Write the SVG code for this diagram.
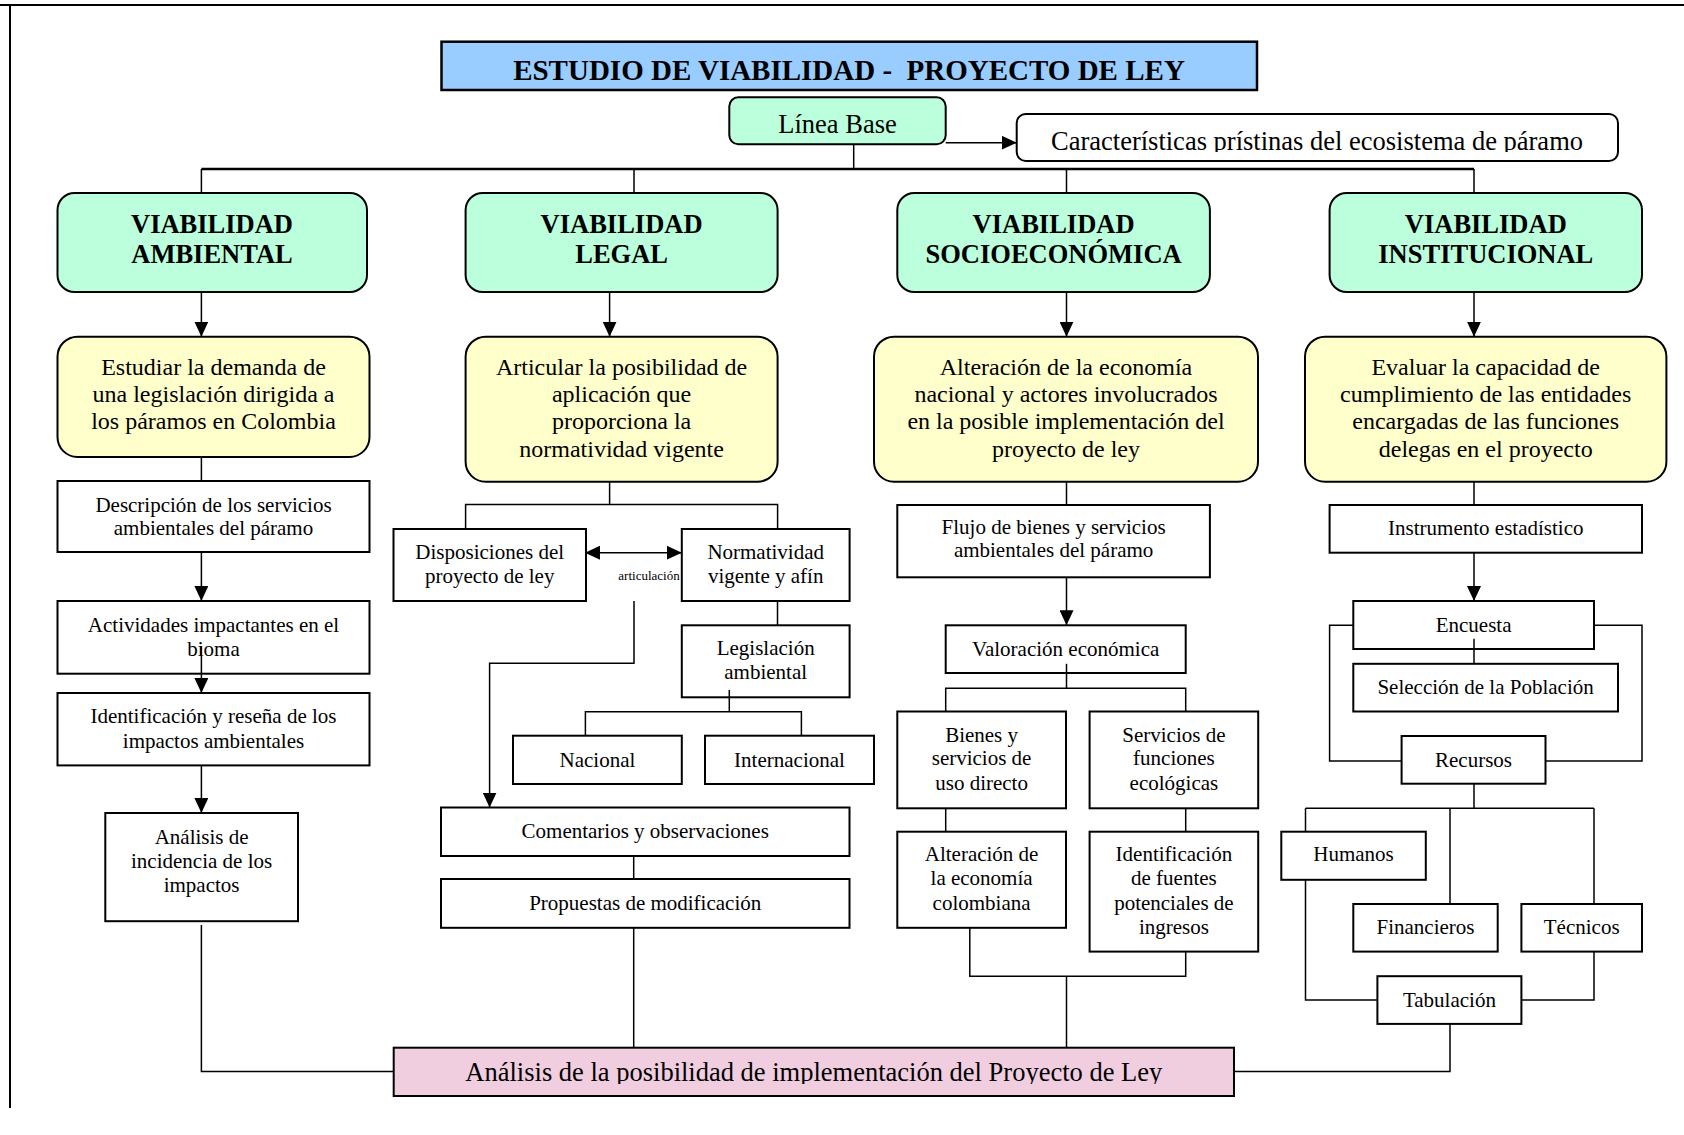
<svg xmlns="http://www.w3.org/2000/svg" width="1684" height="1135" viewBox="0 0 1684 1135">
<style>
.bx{fill:#fff;stroke:#000;stroke-width:2}
.gr{fill:#bbffdc;stroke:#000;stroke-width:2}
.ye{fill:#ffffcc;stroke:#000;stroke-width:2}
.pk{fill:#f1cde0;stroke:#000;stroke-width:2}
.bl{fill:#99ccff;stroke:#000;stroke-width:2.5}
text{font-family:"Liberation Serif","Times New Roman",serif;text-anchor:middle;fill:#000}
.s{font-size:21px}
.m{font-size:24px}
.l{font-size:26.5px}
.h{font-size:26.5px;font-weight:bold}
.ti{font-size:29px;font-weight:bold}
.a{font-size:13px}
.c{fill:none;stroke:#000;stroke-width:1.5}
.k{fill:none;stroke:#000;stroke-width:2.5}
.fr{fill:none;stroke:#000;stroke-width:2}
</style>
<defs>
<marker id="ar" markerUnits="userSpaceOnUse" markerWidth="16" markerHeight="14" refX="15" refY="7" orient="auto">
<path d="M0,0 L15,7 L0,14 Z" fill="#000"/>
</marker>
<marker id="as" markerUnits="userSpaceOnUse" markerWidth="16" markerHeight="14" refX="1" refY="7" orient="auto">
<path d="M15,0 L0,7 L15,14 Z" fill="#000"/>
</marker>
<clipPath id="cc"><rect x="1016" y="114" width="602" height="38"/></clipPath>
<clipPath id="cp"><rect x="393" y="1047" width="841" height="37"/></clipPath>
</defs>

<g id="page">
<line class="fr" x1="0" y1="5" x2="1684" y2="5"/>
<line class="fr" x1="10" y1="5" x2="10" y2="1108"/>
</g>

<g id="titulo">
<rect class="bl" x="441.5" y="41.7" width="815.5" height="48.3"/>
<text class="ti" x="849" y="80" xml:space="preserve">ESTUDIO DE VIABILIDAD -  PROYECTO DE LEY</text>
</g>
<g id="linea-base">
<rect class="gr" x="729.3" y="97.3" width="216.4" height="47" rx="9"/>
<text class="l" x="837.5" y="133.3">Línea Base</text>
</g>
<g id="caracteristicas">
<rect class="bx" x="1016.7" y="114" width="601.3" height="47" rx="9"/>
<text class="l" x="1317" y="150" clip-path="url(#cc)">Características prístinas del ecosistema de páramo</text>
</g>

<g id="v-ambiental">
<rect class="gr" x="57.5" y="193" width="309.5" height="99" rx="17"/>
<text class="h" x="212" y="233">VIABILIDAD</text>
<text class="h" x="212" y="263">AMBIENTAL</text>
</g>
<g id="v-legal">
<rect class="gr" x="465.6" y="193" width="312" height="99" rx="17"/>
<text class="h" x="621.6" y="233">VIABILIDAD</text>
<text class="h" x="621.6" y="263">LEGAL</text>
</g>
<g id="v-socio">
<rect class="gr" x="897.3" y="193" width="312.6" height="99" rx="17"/>
<text class="h" x="1053.6" y="233">VIABILIDAD</text>
<text class="h" x="1053.6" y="263">SOCIOECONÓMICA</text>
</g>
<g id="v-inst">
<rect class="gr" x="1329.6" y="193" width="312.4" height="99" rx="17"/>
<text class="h" x="1485.8" y="233">VIABILIDAD</text>
<text class="h" x="1485.8" y="263">INSTITUCIONAL</text>
</g>

<g id="obj-ambiental">
<rect class="ye" x="57.5" y="336.7" width="312" height="120.3" rx="20"/>
<text class="m" x="213.5" y="375">Estudiar la demanda de</text>
<text class="m" x="213.5" y="402">una legislación dirigida a</text>
<text class="m" x="213.5" y="429">los páramos en Colombia</text>
</g>
<g id="obj-legal">
<rect class="ye" x="465.6" y="336.7" width="312" height="145" rx="20"/>
<text class="m" x="621.6" y="375">Articular la posibilidad de</text>
<text class="m" x="621.6" y="402">aplicación que</text>
<text class="m" x="621.6" y="429">proporciona la</text>
<text class="m" x="621.6" y="457">normatividad vigente</text>
</g>
<g id="obj-socio">
<rect class="ye" x="874" y="336.7" width="384" height="145" rx="20"/>
<text class="m" x="1066" y="375">Alteración de la economía</text>
<text class="m" x="1066" y="402">nacional y actores involucrados</text>
<text class="m" x="1066" y="429">en la posible implementación del</text>
<text class="m" x="1066" y="457">proyecto de ley</text>
</g>
<g id="obj-inst">
<rect class="ye" x="1305" y="336.7" width="361.4" height="145" rx="20"/>
<text class="m" x="1485.7" y="375">Evaluar la capacidad de</text>
<text class="m" x="1485.7" y="402">cumplimiento de las entidades</text>
<text class="m" x="1485.7" y="429">encargadas de las funciones</text>
<text class="m" x="1485.7" y="457">delegas en el proyecto</text>
</g>

<g id="descripcion">
<rect class="bx" x="57.5" y="481" width="312" height="71"/>
<text class="s" x="213.5" y="511.7">Descripción de los servicios</text>
<text class="s" x="213.5" y="535">ambientales del páramo</text>
</g>
<g id="actividades">
<rect class="bx" x="57.5" y="601" width="312" height="72.7"/>
<text class="s" x="213.5" y="631.5">Actividades impactantes en el</text>
<text class="s" x="213.5" y="656">bioma</text>
</g>
<g id="identificacion">
<rect class="bx" x="57.5" y="693" width="312" height="72.4"/>
<text class="s" x="213.5" y="723">Identificación  y reseña de los</text>
<text class="s" x="213.5" y="747.7">impactos ambientales</text>
</g>
<g id="analisis-incidencia">
<rect class="bx" x="105.3" y="813" width="192.7" height="108.2"/>
<text class="s" x="201.6" y="844">Análisis de</text>
<text class="s" x="201.6" y="868">incidencia de los</text>
<text class="s" x="201.6" y="892">impactos</text>
</g>

<g id="disposiciones">
<rect class="bx" x="393.5" y="529" width="192.5" height="72"/>
<text class="s" x="489.7" y="559.3">Disposiciones del</text>
<text class="s" x="489.7" y="583.3">proyecto de ley</text>
</g>
<g id="normatividad">
<rect class="bx" x="681.8" y="529" width="167.8" height="72"/>
<text class="s" x="765.7" y="559.3">Normatividad</text>
<text class="s" x="765.7" y="583.3">vigente y afín</text>
</g>
<g id="legislacion">
<rect class="bx" x="681.8" y="625.3" width="167.8" height="72"/>
<text class="s" x="765.7" y="655">Legislación</text>
<text class="s" x="765.7" y="679">ambiental</text>
</g>
<g id="nacional">
<rect class="bx" x="513" y="735.7" width="168.8" height="48.3"/>
<text class="s" x="597.4" y="767">Nacional</text>
</g>
<g id="internacional">
<rect class="bx" x="705" y="735.7" width="169" height="48.3"/>
<text class="s" x="789.5" y="767">Internacional</text>
</g>
<g id="comentarios">
<rect class="bx" x="441" y="807.5" width="408.5" height="48.5"/>
<text class="s" x="645.2" y="837.6">Comentarios y observaciones</text>
</g>
<g id="propuestas">
<rect class="bx" x="441" y="879" width="408.5" height="48.8"/>
<text class="s" x="645.2" y="910">Propuestas de modificación</text>
</g>

<g id="flujo">
<rect class="bx" x="897.3" y="505" width="312.6" height="72.3"/>
<text class="s" x="1053.6" y="534">Flujo de bienes y servicios</text>
<text class="s" x="1053.6" y="557.3">ambientales del páramo</text>
</g>
<g id="valoracion">
<rect class="bx" x="945.7" y="625.3" width="240" height="47.7"/>
<text class="s" x="1065.7" y="656">Valoración económica</text>
</g>
<g id="bienes">
<rect class="bx" x="897.3" y="711.5" width="168.7" height="96.8"/>
<text class="s" x="981.6" y="741.5">Bienes y</text>
<text class="s" x="981.6" y="765.4">servicios de</text>
<text class="s" x="981.6" y="790.3">uso directo</text>
</g>
<g id="servicios">
<rect class="bx" x="1089.6" y="711.5" width="168.6" height="96.8"/>
<text class="s" x="1173.9" y="741.5">Servicios de</text>
<text class="s" x="1173.9" y="765.4">funciones</text>
<text class="s" x="1173.9" y="790.3">ecológicas</text>
</g>
<g id="alteracion">
<rect class="bx" x="897.3" y="831.7" width="168.7" height="96.1"/>
<text class="s" x="981.6" y="860.7">Alteración de</text>
<text class="s" x="981.6" y="884.5">la economía</text>
<text class="s" x="981.6" y="910.2">colombiana</text>
</g>
<g id="fuentes">
<rect class="bx" x="1089.6" y="831.7" width="168.6" height="119.9"/>
<text class="s" x="1173.9" y="860.7">Identificación</text>
<text class="s" x="1173.9" y="884.5">de fuentes</text>
<text class="s" x="1173.9" y="910.2">potenciales de</text>
<text class="s" x="1173.9" y="934">ingresos</text>
</g>

<g id="instrumento">
<rect class="bx" x="1329.6" y="505" width="312.4" height="47.7"/>
<text class="s" x="1485.8" y="535">Instrumento estadístico</text>
</g>
<g id="encuesta">
<rect class="bx" x="1353.3" y="601" width="240.7" height="48"/>
<text class="s" x="1473.6" y="631.5">Encuesta</text>
</g>
<g id="seleccion">
<rect class="bx" x="1353.3" y="663.8" width="264.7" height="47.7"/>
<text class="s" x="1485.6" y="693.8">Selección de la Población</text>
</g>
<g id="recursos">
<rect class="bx" x="1401.6" y="736" width="143.9" height="47.7"/>
<text class="s" x="1473.5" y="767.2">Recursos</text>
</g>
<g id="humanos">
<rect class="bx" x="1281.3" y="831.7" width="144.5" height="48.1"/>
<text class="s" x="1353.5" y="860.7">Humanos</text>
</g>
<g id="financieros">
<rect class="bx" x="1353.3" y="904" width="144.4" height="47.6"/>
<text class="s" x="1425.5" y="934">Financieros</text>
</g>
<g id="tecnicos">
<rect class="bx" x="1521.4" y="904" width="120.6" height="47.6"/>
<text class="s" x="1581.7" y="934">Técnicos</text>
</g>
<g id="tabulacion">
<rect class="bx" x="1377.4" y="976.2" width="144" height="47.7"/>
<text class="s" x="1449.4" y="1007.4">Tabulación</text>
</g>

<g id="analisis-final">
<rect class="pk" x="393.7" y="1047.7" width="840.3" height="48.3"/>
<text class="l" x="813.8" y="1080.7" clip-path="url(#cp)">Análisis de la posibilidad de implementación del Proyecto de Ley</text>
</g>

<g id="connectors">
<line class="c" x1="945.7" y1="142.7" x2="1016.7" y2="142.7" marker-end="url(#ar)"/>
<line class="c" x1="853.7" y1="144.3" x2="853.7" y2="169"/>
<line class="k" x1="201.4" y1="169" x2="1474" y2="169"/>
<line class="c" x1="201.4" y1="169" x2="201.4" y2="193"/>
<line class="c" x1="634" y1="169" x2="634" y2="193"/>
<line class="c" x1="1066.5" y1="169" x2="1066.5" y2="193"/>
<line class="c" x1="1474" y1="169" x2="1474" y2="193"/>

<line class="c" x1="201.4" y1="292" x2="201.4" y2="336.7" marker-end="url(#ar)"/>
<line class="c" x1="609.6" y1="292" x2="609.6" y2="336.7" marker-end="url(#ar)"/>
<line class="c" x1="1066.5" y1="292" x2="1066.5" y2="336.7" marker-end="url(#ar)"/>
<line class="c" x1="1474" y1="292" x2="1474" y2="336.7" marker-end="url(#ar)"/>

<line class="c" x1="201.4" y1="457" x2="201.4" y2="481"/>
<line class="c" x1="201.4" y1="552" x2="201.4" y2="601" marker-end="url(#ar)"/>
<line class="c" x1="201.4" y1="646" x2="201.4" y2="693" marker-end="url(#ar)"/>
<line class="c" x1="201.4" y1="765.4" x2="201.4" y2="813" marker-end="url(#ar)"/>
<polyline class="c" points="201.4,925 201.4,1071.6 393.7,1071.6"/>

<line class="c" x1="609.6" y1="481.7" x2="609.6" y2="504.5"/>
<polyline class="c" points="465.6,529 465.6,504.5 777.6,504.5 777.6,529"/>
<line class="c" x1="586" y1="552.7" x2="681.8" y2="552.7" marker-start="url(#as)" marker-end="url(#ar)"/>
<text class="a" x="649" y="580">articulación</text>
<polyline class="c" points="634,601 634,663.3 489.6,663.3 489.6,807.5" marker-end="url(#ar)"/>
<line class="c" x1="777.5" y1="601" x2="777.5" y2="625.3"/>
<line class="c" x1="729.3" y1="690" x2="729.3" y2="711.7"/>
<polyline class="c" points="585.4,735.7 585.4,711.7 801.4,711.7 801.4,735.7"/>
<line class="c" x1="633.7" y1="856" x2="633.7" y2="879"/>
<line class="c" x1="633.7" y1="927.8" x2="633.7" y2="1047.7"/>

<line class="c" x1="1066.5" y1="481.7" x2="1066.5" y2="505"/>
<line class="c" x1="1066.5" y1="577.3" x2="1066.5" y2="625.3" marker-end="url(#ar)"/>
<line class="c" x1="1066.5" y1="663.8" x2="1066.5" y2="688.3"/>
<polyline class="c" points="945.7,711.5 945.7,688.3 1185.7,688.3 1185.7,711.5"/>
<line class="c" x1="945.7" y1="808.3" x2="945.7" y2="831.7"/>
<line class="c" x1="1185.7" y1="808.3" x2="1185.7" y2="831.7"/>
<polyline class="c" points="969.8,927.8 969.8,976.2 1185.7,976.2 1185.7,951.6"/>
<line class="c" x1="1066.5" y1="976.2" x2="1066.5" y2="1047.7"/>

<line class="c" x1="1474" y1="481.7" x2="1474" y2="505"/>
<line class="c" x1="1474" y1="552.7" x2="1474" y2="601" marker-end="url(#ar)"/>
<line class="c" x1="1474" y1="638.8" x2="1474" y2="663.8"/>
<polyline class="c" points="1353.3,625.3 1329.6,625.3 1329.6,761 1401.6,761"/>
<polyline class="c" points="1594,625.3 1642,625.3 1642,761 1545.5,761"/>
<line class="c" x1="1474" y1="783.7" x2="1474" y2="808.3"/>
<line class="c" x1="1305.5" y1="808.3" x2="1594" y2="808.3"/>
<line class="c" x1="1305.5" y1="808.3" x2="1305.5" y2="831.7"/>
<line class="c" x1="1450" y1="808.3" x2="1450" y2="904"/>
<line class="c" x1="1594" y1="808.3" x2="1594" y2="904"/>
<polyline class="c" points="1305.5,879.8 1305.5,1000 1377.4,1000"/>
<polyline class="c" points="1594,951.6 1594,1000 1521.4,1000"/>
<polyline class="c" points="1450,1023.9 1450,1071.6 1234,1071.6"/>
</g>
</svg>
